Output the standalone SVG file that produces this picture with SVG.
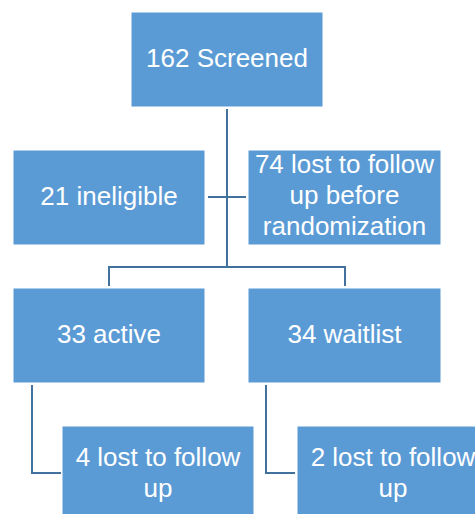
<svg xmlns="http://www.w3.org/2000/svg" width="475" height="514" viewBox="0 0 475 514">
<style>
.box{fill:#5B9BD5;stroke:#ffffff;stroke-width:1}
.t{font-family:"Liberation Sans",Arial,sans-serif;font-size:26px;fill:#ffffff;text-anchor:middle}
.c{fill:none;stroke:#41719C;stroke-width:2}
</style>
<rect width="475" height="514" fill="#ffffff"/>
<g id="connectors">
<path class="c" d="M227,109 V267"/>
<path class="c" d="M208,197 H246"/>
<path class="c" d="M109,286 V267 H345 V286"/>
<path class="c" d="M32,385 V473 H61"/>
<path class="c" d="M266,385 V473 H295"/>
</g>
<g id="screened"><rect class="box" x="131" y="12" width="192" height="95"/><text class="t" x="227" y="67">162 Screened</text></g>
<g id="ineligible"><rect class="box" x="13" y="150" width="192" height="95"/><text class="t" x="109" y="205">21 ineligible</text></g>
<g id="lost74"><rect class="box" x="248" y="150" width="193" height="95"/><text class="t" x="344.5" y="173">74 lost to follow</text><text class="t" x="344.5" y="204">up before</text><text class="t" x="344.5" y="235">randomization</text></g>
<g id="active"><rect class="box" x="13" y="288" width="192" height="95"/><text class="t" x="109" y="343">33 active</text></g>
<g id="waitlist"><rect class="box" x="248" y="288" width="193" height="95"/><text class="t" x="344.5" y="343">34 waitlist</text></g>
<g id="lost4"><rect class="box" x="62" y="426" width="192" height="95"/><text class="t" x="158" y="466">4 lost to follow</text><text class="t" x="158" y="497">up</text></g>
<g id="lost2"><rect class="box" x="297" y="426" width="192" height="95"/><text class="t" x="393" y="466">2 lost to follow</text><text class="t" x="393" y="497">up</text></g>
</svg>
